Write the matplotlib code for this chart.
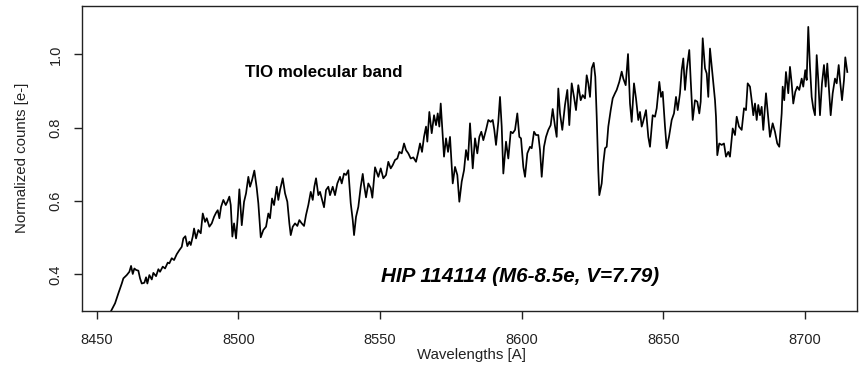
import numpy as np
import matplotlib.pyplot as plt

plt.rcParams['font.family'] = ['Liberation Sans', 'DejaVu Sans']

# espectro normalizado de HIP 114114 (longitud de onda en Angstrom, cuentas normalizadas)
wl = [8455.05, 8456.46, 8457.62, 8458.83, 8459.39, 8460.59, 8461.51, 8462.11, 8462.71, 8463.27,
      8463.87, 8464.68, 8465.28, 8465.88, 8466.80, 8467.40, 8467.86, 8468.57, 8469.42, 8469.98,
      8470.93, 8471.75, 8472.34, 8473.30, 8474.11, 8475.06, 8475.63, 8476.47, 8477.29, 8478.24,
      8479.16, 8480.00, 8480.57, 8481.28, 8481.98, 8482.69, 8483.18, 8483.89, 8484.35, 8485.05,
      8485.86, 8486.71, 8487.42, 8488.23, 8488.83, 8489.75, 8490.59, 8491.41, 8492.11, 8492.71,
      8493.28, 8493.88, 8494.69, 8495.54, 8496.10, 8496.81, 8497.30, 8497.87, 8498.47, 8499.17,
      8499.77, 8500.34, 8501.19, 8502.00, 8502.70, 8503.51, 8504.11, 8504.82, 8505.63, 8506.48,
      8507.04, 8507.89, 8508.81, 8509.76, 8510.57, 8511.17, 8511.88, 8512.59, 8513.54, 8514.10,
      8514.70, 8515.66, 8516.47, 8517.28, 8517.99, 8518.48, 8519.19, 8520.00, 8520.81, 8521.52,
      8522.36, 8523.18, 8523.88, 8524.69, 8525.54, 8526.25, 8526.81, 8527.41, 8528.22, 8528.82,
      8529.42, 8530.23, 8530.94, 8531.75, 8532.35, 8533.30, 8534.11, 8534.93, 8535.88, 8536.48,
      8537.29, 8538.00, 8538.81, 8539.66, 8540.37, 8540.83, 8541.53, 8542.34, 8543.19, 8543.90,
      8544.36, 8545.06, 8545.87, 8546.72, 8547.29, 8548.24, 8549.40, 8550.25, 8551.17, 8552.12,
      8552.93, 8553.78, 8554.49, 8555.30, 8556.11, 8556.82, 8557.66, 8558.48, 8559.18, 8559.99,
      8560.84, 8561.76, 8562.71, 8563.52, 8564.12, 8564.83, 8565.53, 8566.24, 8566.70, 8567.41,
      8568.25, 8569.07, 8569.77, 8570.37, 8570.94, 8571.43, 8572.14, 8572.59, 8573.30, 8574.01,
      8574.71, 8575.67, 8576.48, 8577.29, 8578.00, 8578.84, 8579.66, 8580.36, 8581.07, 8581.77,
      8582.73, 8583.54, 8584.35, 8585.06, 8585.76, 8586.47, 8587.42, 8588.23, 8589.08, 8589.78,
      8590.35, 8590.95, 8591.76, 8592.36, 8592.96, 8593.53, 8594.48, 8595.29, 8596.14, 8596.85,
      8597.66, 8598.47, 8599.18, 8599.77, 8600.59, 8601.19, 8602.00, 8602.95, 8603.55, 8604.37,
      8605.07, 8605.88, 8606.48, 8607.08, 8607.89, 8608.60, 8609.41, 8610.25, 8610.96, 8611.77,
      8612.37, 8612.94, 8613.54, 8614.35, 8615.30, 8616.12, 8616.82, 8617.67, 8618.48, 8619.19,
      8620.00, 8620.85, 8621.55, 8622.36, 8622.96, 8623.53, 8624.13, 8624.73, 8625.44, 8626.00,
      8626.50, 8627.06, 8627.42, 8628.26, 8628.83, 8629.43, 8630.03, 8630.59, 8631.44, 8632.14,
      8632.96, 8633.55, 8634.47, 8635.32, 8635.89, 8636.73, 8637.55, 8638.25, 8638.85, 8639.66,
      8640.37, 8641.18, 8641.78, 8642.38, 8642.84, 8643.90, 8644.71, 8645.31, 8646.26, 8647.08,
      8647.68, 8648.60, 8649.20, 8649.79, 8650.61, 8651.21, 8652.02, 8652.97, 8653.78, 8654.49,
      8655.09, 8655.90, 8656.50, 8657.07, 8657.67, 8658.26, 8659.18, 8659.68, 8660.39, 8661.20,
      8662.01, 8662.72, 8663.21, 8663.92, 8664.73, 8665.33, 8665.89, 8666.49, 8667.45, 8668.26,
      8668.61, 8669.07, 8669.77, 8670.62, 8671.43, 8672.14, 8672.95, 8673.55, 8674.51, 8675.32,
      8675.92, 8676.73, 8677.68, 8678.50, 8679.20, 8679.80, 8680.61, 8681.21, 8681.78, 8682.38,
      8682.98, 8683.54, 8684.14, 8684.74, 8685.30, 8686.26, 8687.07, 8687.67, 8688.62, 8689.43,
      8690.24, 8690.95, 8691.80, 8692.15, 8692.71, 8693.31, 8694.13, 8694.73, 8695.33, 8695.89,
      8696.60, 8697.31, 8698.01, 8698.86, 8699.42, 8700.13, 8700.62, 8701.19, 8701.79, 8702.39,
      8702.96, 8703.56, 8704.16, 8704.72, 8705.32, 8706.03, 8706.73, 8707.33, 8707.90, 8708.61,
      8709.10, 8709.81, 8710.62, 8711.22, 8711.93, 8712.39, 8713.10, 8713.80, 8714.26, 8714.97]

flux = [0.300, 0.321, 0.348, 0.375, 0.389, 0.398, 0.407, 0.423, 0.401, 0.416,
        0.412, 0.410, 0.389, 0.375, 0.377, 0.392, 0.375, 0.398, 0.386, 0.404,
        0.395, 0.414, 0.407, 0.421, 0.416, 0.432, 0.430, 0.444, 0.439, 0.455,
        0.466, 0.475, 0.498, 0.504, 0.477, 0.489, 0.480, 0.503, 0.525, 0.498,
        0.521, 0.512, 0.566, 0.543, 0.553, 0.530, 0.539, 0.557, 0.568, 0.575,
        0.553, 0.584, 0.603, 0.589, 0.598, 0.612, 0.589, 0.503, 0.539, 0.498,
        0.557, 0.632, 0.534, 0.598, 0.621, 0.666, 0.639, 0.657, 0.683, 0.635,
        0.594, 0.501, 0.521, 0.530, 0.566, 0.553, 0.607, 0.589, 0.639, 0.603,
        0.630, 0.662, 0.621, 0.598, 0.539, 0.507, 0.530, 0.539, 0.532, 0.548,
        0.539, 0.532, 0.562, 0.589, 0.625, 0.603, 0.639, 0.662, 0.616, 0.625,
        0.607, 0.583, 0.630, 0.639, 0.616, 0.639, 0.616, 0.648, 0.666, 0.648,
        0.675, 0.671, 0.684, 0.594, 0.548, 0.507, 0.557, 0.584, 0.639, 0.674,
        0.644, 0.610, 0.648, 0.635, 0.609, 0.692, 0.666, 0.689, 0.662, 0.671,
        0.707, 0.689, 0.698, 0.712, 0.716, 0.734, 0.730, 0.757, 0.739, 0.730,
        0.716, 0.719, 0.707, 0.734, 0.757, 0.734, 0.775, 0.803, 0.762, 0.843,
        0.785, 0.834, 0.807, 0.839, 0.803, 0.866, 0.780, 0.721, 0.771, 0.734,
        0.775, 0.648, 0.693, 0.671, 0.598, 0.653, 0.684, 0.739, 0.712, 0.812,
        0.689, 0.771, 0.730, 0.775, 0.789, 0.766, 0.794, 0.821, 0.816, 0.821,
        0.794, 0.753, 0.816, 0.884, 0.803, 0.675, 0.762, 0.716, 0.789, 0.785,
        0.794, 0.839, 0.775, 0.771, 0.693, 0.666, 0.730, 0.748, 0.744, 0.789,
        0.780, 0.780, 0.739, 0.666, 0.748, 0.775, 0.794, 0.807, 0.851, 0.804,
        0.775, 0.907, 0.839, 0.794, 0.862, 0.903, 0.807, 0.921, 0.884, 0.848,
        0.916, 0.875, 0.889, 0.880, 0.943, 0.921, 0.884, 0.962, 0.977, 0.939,
        0.830, 0.684, 0.616, 0.648, 0.703, 0.744, 0.748, 0.803, 0.848, 0.880,
        0.894, 0.903, 0.925, 0.953, 0.934, 0.916, 1.001, 0.866, 0.816, 0.921,
        0.880, 0.821, 0.843, 0.803, 0.815, 0.848, 0.775, 0.748, 0.834, 0.830,
        0.853, 0.925, 0.884, 0.898, 0.803, 0.744, 0.775, 0.821, 0.839, 0.884,
        0.848, 0.894, 0.957, 0.989, 0.903, 0.957, 1.012, 0.930, 0.821, 0.875,
        0.871, 0.839, 0.871, 1.044, 0.962, 0.948, 0.884, 1.016, 0.939, 0.875,
        0.830, 0.725, 0.757, 0.753, 0.757, 0.721, 0.734, 0.721, 0.798, 0.780,
        0.830, 0.803, 0.794, 0.853, 0.848, 0.921, 0.912, 0.875, 0.834, 0.866,
        0.821, 0.862, 0.834, 0.857, 0.794, 0.894, 0.825, 0.775, 0.812, 0.789,
        0.757, 0.748, 0.839, 0.912, 0.875, 0.952, 0.894, 0.966, 0.921, 0.866,
        0.898, 0.912, 0.903, 0.934, 0.912, 0.957, 0.930, 1.075, 0.966, 0.884,
        0.853, 0.834, 0.998, 0.930, 0.834, 0.921, 0.971, 0.912, 0.975, 0.894,
        0.834, 0.894, 0.934, 0.921, 0.971, 0.930, 0.875, 0.930, 0.992, 0.952]

xticks = [8450, 8500, 8550, 8600, 8650, 8700]
yticks = [0.4, 0.6, 0.8, 1.0]

fig = plt.figure(figsize=(8.59, 3.68), dpi=100)
ax = fig.add_axes([0.0955, 0.1549, 0.9022, 0.8288])

ax.plot(wl, flux, color='black', lw=1.25)

ax.set_xlim(8444.8, 8718.4)
ax.set_ylim(0.30, 1.132)
ax.set_xticks(xticks)
ax.set_yticks(yticks)
ax.set_xticklabels([str(t) for t in xticks], fontsize=10.5)
ax.set_yticklabels(['%.1f' % t for t in yticks], fontsize=10.5, rotation=90, va='center')
ax.tick_params(axis='x', length=6, width=1, pad=9.5, colors='#222222')
ax.tick_params(axis='y', length=6, width=1, pad=8, colors='#222222')
for s in ax.spines.values():
    s.set_linewidth(1.0)
    s.set_color('#222222')

# etiquetas dentro del panel
ax.text(8530.2, 0.951, 'TIO molecular band', fontsize=12.2, fontweight='bold',
        ha='center', va='center')
ax.text(8599.6, 0.393, 'HIP 114114 (M6-8.5e, V=7.79)', fontsize=14.9,
        fontweight='bold', style='italic', ha='center', va='center')

fig.text(0.549, 0.0353, 'Wavelengths [A]', fontsize=10.8, ha='center', va='center',
         color='#222222')
fig.text(0.0253, 0.5707, 'Normalized counts [e-]', fontsize=10.8, rotation=90,
         ha='center', va='center', color='#222222')

fig.savefig('out.png', dpi=100)
